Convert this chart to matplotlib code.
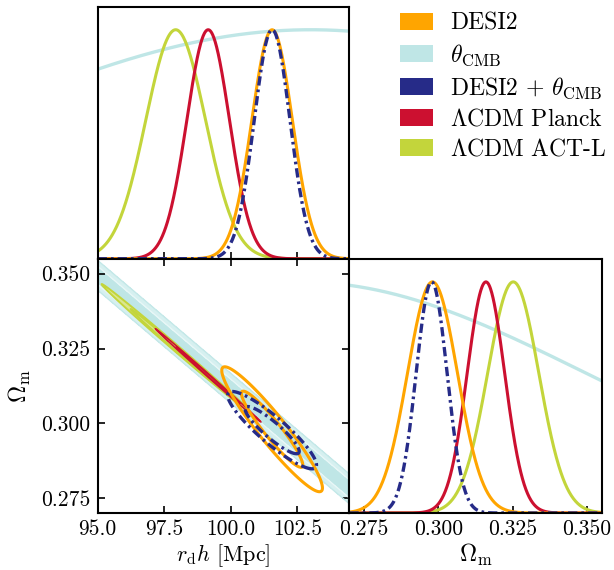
import numpy as np
import matplotlib.pyplot as plt
from matplotlib.patches import Patch
from matplotlib.ticker import FormatStrFormatter

plt.rcParams['font.family'] = 'serif'
plt.rcParams['font.serif'] = ['cmr10']
plt.rcParams['mathtext.fontset'] = 'cm'
plt.rcParams['axes.formatter.use_mathtext'] = True

labels = ['DESI2', r'$\theta_{\rm CMB}$', r'DESI2 + $\theta_{\rm CMB}$',
          r'$\Lambda$CDM Planck', r'$\Lambda$CDM ACT-L']
colors = ['#ffa500', '#bfe6e6', '#262b88', '#cc1030', '#c3d53b']

# gaussian summaries (r_d h in Mpc, Omega_m, correlation)
rdh_mean = [101.55, 103.0, 101.55, 99.15, 97.93]
rdh_sig = [0.76, 13.0, 0.67, 0.80, 1.12]
om_mean = [0.2980, 0.2535, 0.2977, 0.3160, 0.3252]
om_sig = [0.0084, 0.096, 0.0052, 0.0063, 0.0086]
rho = [-0.94, 0.0, -0.90, -0.9992, -0.998]

# theta_CMB only gives a thin degeneracy band in the 2D panel
band_x0, band_y0 = 95.0, 0.3495
band_slope = -0.00756
band_width = 0.0020

rdh_ticks = [95.0, 97.5, 100.0, 102.5]
om_ticks = [0.275, 0.300, 0.325, 0.350]
rdh_lim = (95.0, 104.45)
om_lim = (0.270, 0.355)

levels = [2.30, 6.18]  # 68% / 95% for 2 params

fig = plt.figure(figsize=(6.14, 5.70), dpi=100)
ax_top = fig.add_axes([0.159, 0.546, 0.410, 0.442])
ax_2d = fig.add_axes([0.159, 0.100, 0.410, 0.446])
ax_om = fig.add_axes([0.569, 0.100, 0.411, 0.446])

styles = ['-', '-', (0, (2.8, 1.2, 0.8, 1.2)), '-', '-']
widths = [2.2, 2.4, 2.4, 2.2, 2.2]

# 1D marginals
xx = np.linspace(rdh_lim[0], rdh_lim[1], 600)
yy = np.linspace(om_lim[0], om_lim[1], 600)
order = [1, 4, 3, 0, 2]
for i in order:
    p = np.exp(-0.5 * ((xx - rdh_mean[i]) / rdh_sig[i]) ** 2)
    ax_top.plot(xx, p, color=colors[i], lw=widths[i], ls=styles[i])
    p = np.exp(-0.5 * ((yy - om_mean[i]) / om_sig[i]) ** 2)
    ax_om.plot(yy, p, color=colors[i], lw=widths[i], ls=styles[i])

# 2D panel
X, Y = np.meshgrid(np.linspace(rdh_lim[0], rdh_lim[1], 700),
                   np.linspace(om_lim[0], om_lim[1], 700))
chi_band = ((Y - (band_y0 + band_slope * (X - band_x0))) / band_width) ** 2
ax_2d.contourf(X, Y, chi_band, levels=[0, levels[0], levels[1]],
               colors=['#bfe6e6', '#d6f0f0'])
ax_2d.contour(X, Y, chi_band, levels=levels, colors=['#e8f7f7', '#c4e8e8'],
              linewidths=1.0)

def chi2(i):
    dx = (X - rdh_mean[i]) / rdh_sig[i]
    dy = (Y - om_mean[i]) / om_sig[i]
    r = rho[i]
    return (dx ** 2 - 2 * r * dx * dy + dy ** 2) / (1 - r ** 2)

# thin CMB contours: light fill plus edge lines
fills = {4: '#dbe68f', 3: '#e07a88'}
for i in [4, 3]:
    c = chi2(i)
    ax_2d.contourf(X, Y, c, levels=[0, levels[1]], colors=[fills[i]])
    ax_2d.contour(X, Y, c, levels=levels, colors=[colors[i]],
                  linewidths=1.4 if i == 4 else 1.1)

for i in [0, 2]:
    ax_2d.contour(X, Y, chi2(i), levels=levels, colors=[colors[i]],
                  linewidths=widths[i], linestyles=[styles[i]])

for ax in (ax_top, ax_2d, ax_om):
    for s in ax.spines.values():
        s.set_linewidth(1.5)
    ax.tick_params(direction='in', length=5, width=1.2, labelsize=15.5,
                   colors='black', pad=5)

ax_top.set_xlim(*rdh_lim)
ax_top.set_ylim(0, 1.1)
ax_top.set_xticks(rdh_ticks)
ax_top.set_yticks([])
ax_top.tick_params(labelbottom=False)

ax_2d.set_xlim(*rdh_lim)
ax_2d.set_ylim(*om_lim)
ax_2d.set_xticks(rdh_ticks)
ax_2d.set_yticks(om_ticks)
ax_2d.xaxis.set_major_formatter(FormatStrFormatter('%.1f'))
ax_2d.yaxis.set_major_formatter(FormatStrFormatter('%.3f'))
ax_2d.tick_params(top=True, right=True)
ax_2d.set_xlabel(r'$r_{\rm d}h$ [Mpc]', fontsize=16, labelpad=2)
ax_2d.set_ylabel(r'$\Omega_{\rm m}$', fontsize=17, labelpad=6)

ax_om.set_xlim(*om_lim)
ax_om.set_ylim(0, 1.1)
ax_om.set_xticks(om_ticks)
ax_om.set_yticks([])
ax_om.xaxis.set_major_formatter(FormatStrFormatter('%.3f'))
ax_om.set_xlabel(r'$\Omega_{\rm m}$', fontsize=17, labelpad=2)

handles = [Patch(facecolor=c, edgecolor='none') for c in colors]
fig.legend(handles, labels, loc='upper left', bbox_to_anchor=(0.651, 0.978),
           frameon=False, fontsize=17, handlelength=1.4, handleheight=0.72,
           labelspacing=0.33, handletextpad=0.72, borderpad=0,
           borderaxespad=0)

fig.savefig('out.png', dpi=100)
